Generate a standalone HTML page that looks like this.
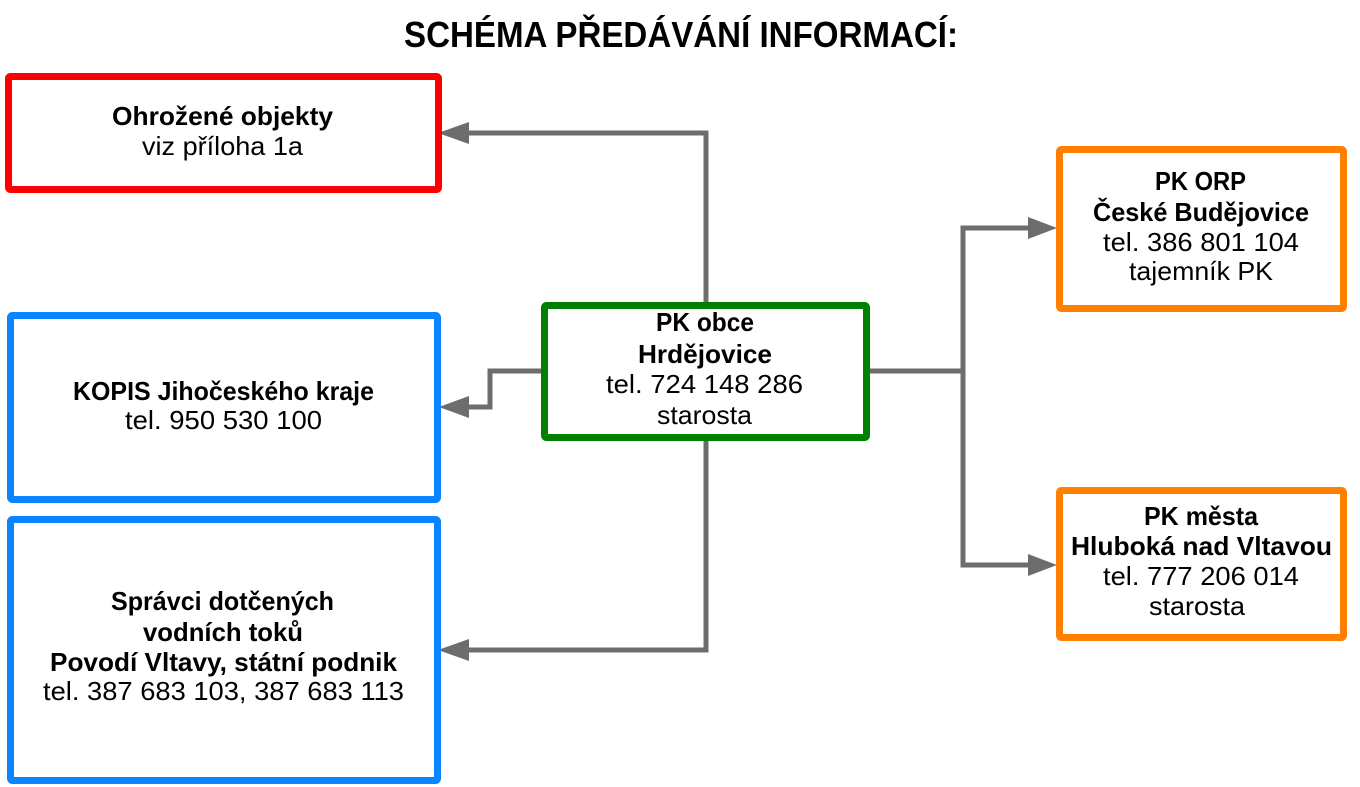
<!DOCTYPE html>
<html>
<head>
<meta charset="utf-8">
<style>
  html, body { margin: 0; padding: 0; background: #ffffff; }
  body { width: 1360px; height: 787px; overflow: hidden; }
  svg { display: block; }
  text { font-family: "Liberation Sans", "DejaVu Sans", sans-serif; fill: #000; font-size: 26px; }
  .b { font-weight: bold; }
</style>
</head>
<body>
<svg width="1360" height="787" viewBox="0 0 1360 787" xmlns="http://www.w3.org/2000/svg">
  <rect x="0" y="0" width="1360" height="787" fill="#ffffff"/>

  <!-- Title -->
  <text class="b" x="404" y="47" style="font-size:36px" textLength="554" lengthAdjust="spacingAndGlyphs">SCHÉMA PŘEDÁVÁNÍ INFORMACÍ:</text>

  <!-- Connectors -->
  <g fill="none" stroke="#6d6d6d" stroke-width="5" stroke-linejoin="miter">
    <polyline points="706,302 706,133 466,133"/>
    <polyline points="541,371 490,371 490,407 466,407"/>
    <polyline points="706,441 706,650 466,650"/>
    <polyline points="870,371 963,371"/>
    <polyline points="1031,228 963,228 963,565 1031,565"/>
  </g>
  <g fill="#6d6d6d">
    <polygon points="438,133 469,122 469,144"/>
    <polygon points="439,407 469,396 469,418"/>
    <polygon points="438,650 469,639 469,661"/>
    <polygon points="1057,228 1028,217 1028,239"/>
    <polygon points="1057,565 1028,554 1028,576"/>
  </g>

  <!-- Boxes -->
  <g fill="#ffffff" stroke-width="7">
    <rect x="8.5" y="76.5" width="430" height="113" rx="2" stroke="#ff0000"/>
    <rect x="10.5" y="315.5" width="427" height="184" rx="2" stroke="#0a84ff"/>
    <rect x="10.5" y="519.5" width="427" height="261" rx="2" stroke="#0a84ff"/>
    <rect x="544.5" y="305.5" width="322" height="132" rx="2" stroke="#008000"/>
    <rect x="1059.5" y="149.5" width="284" height="159" rx="2" stroke="#ff8000"/>
    <rect x="1059.5" y="490.5" width="284" height="147" rx="2" stroke="#ff8000"/>
  </g>

  <!-- Red box text -->
  <text class="b" x="112" y="125" textLength="221" lengthAdjust="spacingAndGlyphs">Ohrožené objekty</text>
  <text x="142" y="155" textLength="161" lengthAdjust="spacingAndGlyphs">viz příloha 1a</text>

  <!-- KOPIS -->
  <text class="b" x="73" y="400" textLength="301" lengthAdjust="spacingAndGlyphs">KOPIS Jihočeského kraje</text>
  <text x="125" y="429" textLength="197" lengthAdjust="spacingAndGlyphs">tel. 950 530 100</text>

  <!-- Správci -->
  <text class="b" x="111" y="610" textLength="223" lengthAdjust="spacingAndGlyphs">Správci dotčených</text>
  <text class="b" x="143" y="641" textLength="160" lengthAdjust="spacingAndGlyphs">vodních toků</text>
  <text class="b" x="50" y="671" textLength="347" lengthAdjust="spacingAndGlyphs">Povodí Vltavy, státní podnik</text>
  <text x="43" y="700" textLength="361" lengthAdjust="spacingAndGlyphs">tel. 387 683 103, 387 683 113</text>

  <!-- Green box -->
  <text class="b" x="656" y="331" textLength="98" lengthAdjust="spacingAndGlyphs">PK obce</text>
  <text class="b" x="638" y="363" textLength="134" lengthAdjust="spacingAndGlyphs">Hrdějovice</text>
  <text x="606" y="393" textLength="197" lengthAdjust="spacingAndGlyphs">tel. 724 148 286</text>
  <text x="657" y="424" textLength="95" lengthAdjust="spacingAndGlyphs">starosta</text>

  <!-- Orange 1 -->
  <text class="b" x="1155" y="190" textLength="91" lengthAdjust="spacingAndGlyphs">PK ORP</text>
  <text class="b" x="1093" y="221" textLength="216" lengthAdjust="spacingAndGlyphs">České Budějovice</text>
  <text x="1103" y="251" textLength="196" lengthAdjust="spacingAndGlyphs">tel. 386 801 104</text>
  <text x="1129" y="280" textLength="144" lengthAdjust="spacingAndGlyphs">tajemník PK</text>

  <!-- Orange 2 -->
  <text class="b" x="1144" y="525" textLength="114" lengthAdjust="spacingAndGlyphs">PK města</text>
  <text class="b" x="1071" y="555" textLength="261" lengthAdjust="spacingAndGlyphs">Hluboká nad Vltavou</text>
  <text x="1103" y="585" textLength="196" lengthAdjust="spacingAndGlyphs">tel. 777 206 014</text>
  <text x="1149" y="615" textLength="96" lengthAdjust="spacingAndGlyphs">starosta</text>
</svg>
</body>
</html>
